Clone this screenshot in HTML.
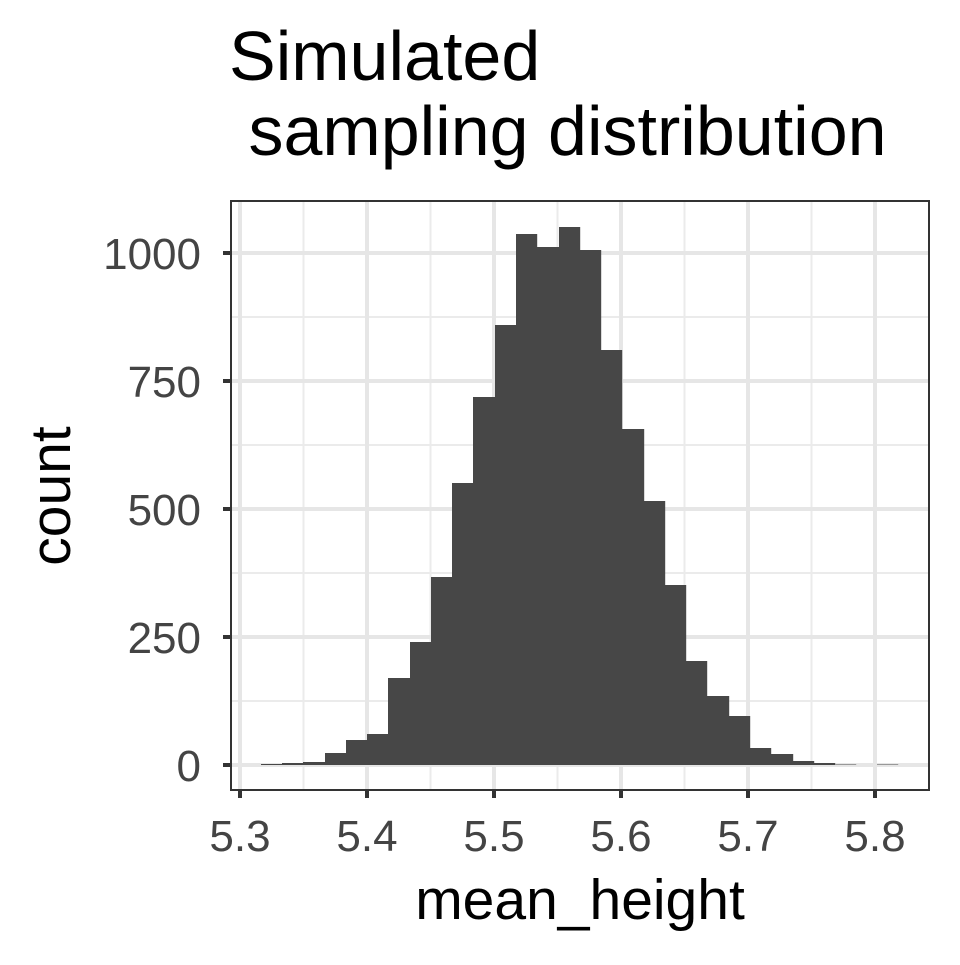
<!DOCTYPE html>
<html><head><meta charset="utf-8"><style>html,body{margin:0;padding:0;background:#fff}</style></head>
<body>
<svg width="960" height="960" viewBox="0 0 960 960" xmlns="http://www.w3.org/2000/svg" font-family="Liberation Sans, Arial, sans-serif">
<rect width="960" height="960" fill="#fff"/>
<rect x="231" y="201" width="698" height="589" fill="#fff"/>
<g stroke="#ebebeb" stroke-width="2">
<line x1="303.5" y1="201" x2="303.5" y2="790"/><line x1="430.5" y1="201" x2="430.5" y2="790"/><line x1="557.5" y1="201" x2="557.5" y2="790"/><line x1="684.5" y1="201" x2="684.5" y2="790"/><line x1="811.5" y1="201" x2="811.5" y2="790"/>
<line x1="231" y1="317" x2="929" y2="317"/><line x1="231" y1="445" x2="929" y2="445"/><line x1="231" y1="573" x2="929" y2="573"/><line x1="231" y1="701" x2="929" y2="701"/>
</g>
<g stroke="#e6e6e6" stroke-width="4">
<line x1="240" y1="201" x2="240" y2="790"/><line x1="367" y1="201" x2="367" y2="790"/><line x1="494" y1="201" x2="494" y2="790"/><line x1="621" y1="201" x2="621" y2="790"/><line x1="748" y1="201" x2="748" y2="790"/><line x1="875" y1="201" x2="875" y2="790"/>
<line x1="231" y1="253" x2="929" y2="253"/><line x1="231" y1="381" x2="929" y2="381"/><line x1="231" y1="509" x2="929" y2="509"/><line x1="231" y1="637" x2="929" y2="637"/><line x1="231" y1="765" x2="929" y2="765"/>
</g>
<g fill="#474747">
<rect x="261" y="764" width="21.2" height="1"/>
<rect x="282" y="763" width="21.2" height="2"/>
<rect x="303" y="762" width="22.2" height="3"/>
<rect x="325" y="753" width="21.2" height="12"/>
<rect x="346" y="740" width="21.2" height="25"/>
<rect x="367" y="734" width="21.2" height="31"/>
<rect x="388" y="678" width="22.2" height="87"/>
<rect x="410" y="642" width="21.2" height="123"/>
<rect x="431" y="577" width="21.2" height="188"/>
<rect x="452" y="483" width="21.2" height="282"/>
<rect x="473" y="397" width="22.2" height="368"/>
<rect x="495" y="325" width="21.2" height="440"/>
<rect x="516" y="234" width="21.2" height="531"/>
<rect x="537" y="247" width="22.2" height="518"/>
<rect x="559" y="227" width="21.2" height="538"/>
<rect x="580" y="250" width="21.2" height="515"/>
<rect x="601" y="350" width="21.2" height="415"/>
<rect x="622" y="429" width="22.2" height="336"/>
<rect x="644" y="501" width="21.2" height="264"/>
<rect x="665" y="585" width="21.2" height="180"/>
<rect x="686" y="661" width="21.2" height="104"/>
<rect x="707" y="696" width="22.2" height="69"/>
<rect x="729" y="716" width="21.2" height="49"/>
<rect x="750" y="748" width="21.2" height="17"/>
<rect x="771" y="754" width="22.2" height="11"/>
<rect x="793" y="761" width="21.2" height="4"/>
<rect x="814" y="763" width="21.2" height="2"/>
<rect x="835" y="764" width="21.2" height="1" fill="#999"/>
<rect x="877" y="764" width="21.2" height="1" fill="#999"/>
</g>
<rect x="231" y="201" width="698" height="589" fill="none" stroke="#333" stroke-width="2"/>
<g stroke="#333" stroke-width="4">
<line x1="223" y1="253" x2="231" y2="253"/><line x1="223" y1="381" x2="231" y2="381"/><line x1="223" y1="509" x2="231" y2="509"/><line x1="223" y1="637" x2="231" y2="637"/><line x1="223" y1="765" x2="231" y2="765"/>
<line x1="240" y1="790" x2="240" y2="798"/><line x1="367" y1="790" x2="367" y2="798"/><line x1="494" y1="790" x2="494" y2="798"/><line x1="621" y1="790" x2="621" y2="798"/><line x1="748" y1="790" x2="748" y2="798"/><line x1="875" y1="790" x2="875" y2="798"/>
</g>
<g fill="#444" font-size="44" text-anchor="end">
<text x="201" y="269">1000</text><text x="201" y="397">750</text><text x="201" y="525">500</text><text x="201" y="653">250</text><text x="201" y="781">0</text>
</g>
<g fill="#444" font-size="44" text-anchor="middle">
<text x="240" y="851">5.3</text><text x="367" y="851">5.4</text><text x="494" y="851">5.5</text><text x="621" y="851">5.6</text><text x="748" y="851">5.7</text><text x="875" y="851">5.8</text>
</g>
<text x="580" y="919" font-size="57" text-anchor="middle" fill="#000">mean_height</text>
<text transform="translate(70,496) rotate(-90)" font-size="57" text-anchor="middle" fill="#000">count</text>
<text x="229" y="80" font-size="70" fill="#000">Simulated</text>
<text x="229" y="155" font-size="70" fill="#000" xml:space="preserve"> sampling distribution</text>
</svg>
</body></html>
